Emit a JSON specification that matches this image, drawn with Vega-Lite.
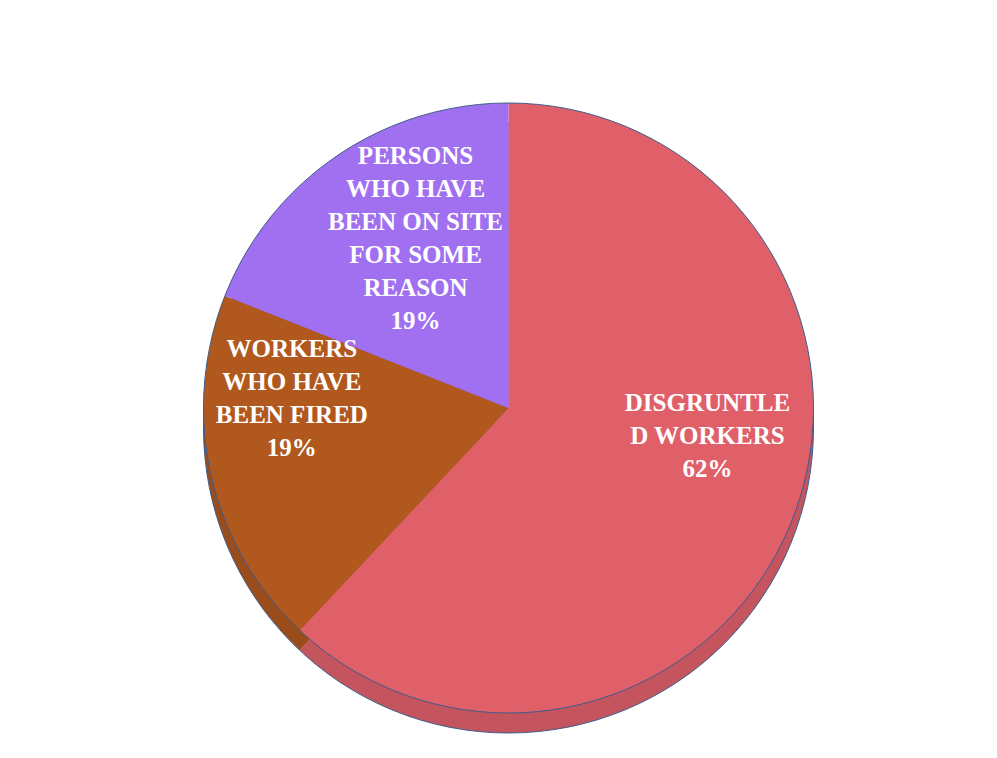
{
  "$schema": "https://vega.github.io/schema/vega-lite/v6.json",
  "width": 997,
  "height": 758,
  "autosize": {"type": "fit", "contains": "padding"},
  "padding": {"left": 20, "top": 58, "right": 0, "bottom": 0},
  "background": "white",
  "view": {"stroke": null},
  "data": {
    "values": [
      {"segment": "DISGRUNTLED WORKERS", "label": "DISGRUNTLE\nD WORKERS\n62%", "share": 62, "ord": 1},
      {"segment": "WORKERS WHO HAVE BEEN FIRED", "label": "WORKERS\nWHO HAVE\nBEEN FIRED\n19%", "share": 19, "ord": 2},
      {"segment": "PERSONS WHO HAVE BEEN ON SITE FOR SOME REASON", "label": "PERSONS\nWHO HAVE\nBEEN ON SITE\nFOR SOME\nREASON\n19%", "share": 19, "ord": 3}
    ]
  },
  "layer": [
    {
      "mark": {"type": "arc", "outerRadius": 305, "yOffset": 20},
      "encoding": {
        "theta": {"field": "share", "type": "quantitative", "stack": true},
        "order": {"field": "ord", "type": "quantitative"},
        "color": {
          "field": "segment", "type": "nominal", "legend": null,
          "scale": {
            "domain": ["DISGRUNTLED WORKERS", "WORKERS WHO HAVE BEEN FIRED", "PERSONS WHO HAVE BEEN ON SITE FOR SOME REASON"],
            "range": ["#E0606A", "#B0581E", "#A070F0"]
          }
        }
      }
    },
    {
      "data": {"values": [{"part": "side"}]},
      "mark": {"type": "arc", "outerRadius": 305, "yOffset": 20, "theta": 0, "theta2": 6.2832, "fill": "#000000", "fillOpacity": 0.12, "stroke": "#3E5C8A", "strokeWidth": 1},
      "encoding": {}
    },
    {
      "mark": {"type": "arc", "outerRadius": 305},
      "encoding": {
        "theta": {"field": "share", "type": "quantitative", "stack": true},
        "order": {"field": "ord", "type": "quantitative"},
        "color": {"field": "segment", "type": "nominal", "legend": null}
      }
    },
    {
      "data": {"values": [{"part": "top"}]},
      "mark": {"type": "arc", "outerRadius": 305, "theta": 0, "theta2": 6.2832, "filled": false, "stroke": "#3E5C8A", "strokeWidth": 1},
      "encoding": {}
    },
    {
      "mark": {"type": "text", "radius": 214, "dy": -84, "font": "Liberation Serif", "fontWeight": "bold", "fontSize": 25, "lineHeight": 33, "lineBreak": "\n", "color": "white", "align": "center", "baseline": "middle"},
      "encoding": {
        "theta": {"field": "share", "type": "quantitative", "stack": true},
        "order": {"field": "ord", "type": "quantitative"},
        "text": {"condition": {"test": "datum.ord === 1", "field": "label"}, "value": ""}
      }
    },
    {
      "mark": {"type": "text", "radius": 222, "dy": -107, "font": "Liberation Serif", "fontWeight": "bold", "fontSize": 25, "lineHeight": 33, "lineBreak": "\n", "color": "white", "align": "center", "baseline": "middle"},
      "encoding": {
        "theta": {"field": "share", "type": "quantitative", "stack": true},
        "order": {"field": "ord", "type": "quantitative"},
        "text": {"condition": {"test": "datum.ord === 2", "field": "label"}, "value": ""}
      }
    },
    {
      "mark": {"type": "text", "radius": 185, "dx": 11, "dy": -99, "font": "Liberation Serif", "fontWeight": "bold", "fontSize": 25, "lineHeight": 33, "lineBreak": "\n", "color": "white", "align": "center", "baseline": "middle"},
      "encoding": {
        "theta": {"field": "share", "type": "quantitative", "stack": true},
        "order": {"field": "ord", "type": "quantitative"},
        "text": {"condition": {"test": "datum.ord === 3", "field": "label"}, "value": ""}
      }
    }
  ]
}
